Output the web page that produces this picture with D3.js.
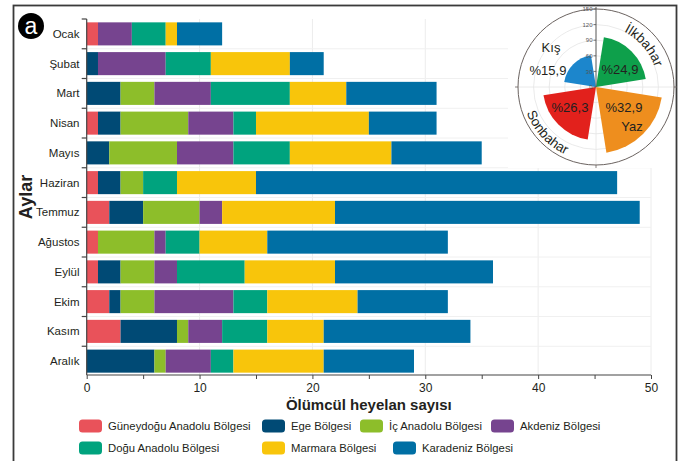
<!DOCTYPE html>
<html lang="tr">
<head>
<meta charset="utf-8">
<script src="https://cdn.jsdelivr.net/npm/d3@7"></script>
<style>
  html, body { margin: 0; padding: 0; background: #fff; }
  svg { display: block; }
  text { font-family: "Liberation Sans", Arial, sans-serif; }
</style>
</head>
<body>
<svg id="chart" width="681" height="461"></svg>
<script>
// Ölümcül heyelan sayıları: aylara ve bölgelere göre
const months = ["Ocak", "Şubat", "Mart", "Nisan", "Mayıs", "Haziran",
                "Temmuz", "Ağustos", "Eylül", "Ekim", "Kasım", "Aralık"];

const regions = ["Güneydoğu Anadolu Bölgesi", "Ege Bölgesi", "İç Anadolu Bölgesi",
                 "Akdeniz Bölgesi", "Doğu Anadolu Bölgesi", "Marmara Bölgesi",
                 "Karadeniz Bölgesi"];

const guneydogu = [1, 0, 0, 1, 0, 1, 2, 1, 1, 2, 3, 0];
const ege       = [0, 1, 3, 2, 2, 2, 3, 0, 2, 1, 5, 6];
const icAnadolu = [0, 0, 3, 6, 6, 2, 5, 5, 3, 3, 1, 1];
const akdeniz   = [3, 6, 5, 4, 5, 0, 2, 1, 2, 7, 3, 4];
const doguAnadolu = [3, 4, 7, 2, 5, 3, 0, 3, 6, 3, 4, 2];
const marmara   = [1, 7, 5, 10, 9, 7, 10, 6, 8, 8, 5, 8];
const karadeniz = [4, 3, 8, 6, 8, 32, 27, 16, 14, 8, 13, 8];

const regionColors = ["#E9525A", "#004A75", "#8DBE2A", "#76448F",
                      "#00A37E", "#F8C50B", "#006FA4"];

const xTicks = [0, 10, 20, 30, 40, 50];

// Mevsimsel dağılım (yüzde)
const seasons = ["İlkbahar", "Yaz", "Sonbahar", "Kış"];
const seasonPercent = [24.9, 32.9, 26.3, 15.9];
const seasonColors = ["#0EA04B", "#EE8E1E", "#E2211C", "#1C86CC"];
const polarTicks = [0, 30, 60, 90, 120, 150];

const seriesByRegion = [guneydogu, ege, icAnadolu, akdeniz, doguAnadolu, marmara, karadeniz];

const table = months.map((m, i) => {
  const row = { month: m };
  regions.forEach((r, k) => { row[r] = seriesByRegion[k][i]; });
  return row;
});

const svg = d3.select("#chart");
const ink = "#231f20";

// Çerçeve
svg.append("rect")
  .attr("x", 13.5).attr("y", 5.5)
  .attr("width", 663).attr("height", 480)
  .attr("fill", "#fff")
  .attr("stroke", "#3a3a3a").attr("stroke-width", 1.8);

// Ölçekler
const x = d3.scaleLinear().domain([0, 50]).range([86.7, 651]);
const y = d3.scaleBand().domain(months).range([19, 376])
  .paddingInner(0.225).paddingOuter(0.1125);

const plot = svg.append("g");

// Dikey ızgara çizgileri
plot.append("g").selectAll("line")
  .data(xTicks.slice(1))
  .join("line")
  .attr("x1", d => x(d)).attr("x2", d => x(d))
  .attr("y1", 19).attr("y2", 375)
  .attr("stroke", "#ececec").attr("stroke-width", 1);

// Yatay ızgara çizgileri (bant sınırları)
plot.append("g").selectAll("line")
  .data(months.slice(1))
  .join("line")
  .attr("x1", x(0)).attr("x2", x(50))
  .attr("y1", d => y(d) - y.step() * y.paddingInner() / 2)
  .attr("y2", d => y(d) - y.step() * y.paddingInner() / 2)
  .attr("stroke", "#f0f0f0").attr("stroke-width", 1);

// Yığılmış çubuklar
const stacked = d3.stack().keys(regions)(table);
plot.append("g").selectAll("g")
  .data(stacked)
  .join("g")
  .attr("fill", (d, i) => regionColors[i])
  .selectAll("rect")
  .data(d => d.filter(s => s[1] > s[0]))
  .join("rect")
  .attr("x", d => x(d[0]))
  .attr("width", d => x(d[1]) - x(d[0]))
  .attr("y", d => y(d.data.month))
  .attr("height", y.bandwidth());

// X ekseni
const xAxis = d3.axisBottom(x)
  .tickValues(d3.range(0, 51, 5))
  .tickSize(4)
  .tickFormat(d => (d % 10 === 0 ? d : ""));
const gx = svg.append("g").attr("transform", "translate(0,375)").call(xAxis);
gx.select(".domain").attr("stroke", "#444").attr("stroke-width", 1.2)
  .attr("d", `M${x(0)},0H${x(50)}`);
gx.selectAll(".tick line").attr("stroke", "#444");
gx.selectAll(".tick text")
  .attr("fill", ink).attr("font-size", 12).attr("dy", "0.85em")
  .attr("font-family", "Liberation Sans, Arial, sans-serif");

// Y ekseni: etiketler bant ortasında, çentikler bant sınırlarında
svg.append("line")
  .attr("x1", x(0)).attr("x2", x(0))
  .attr("y1", 19).attr("y2", 375)
  .attr("stroke", "#444").attr("stroke-width", 1.2);

const boundaries = months.map(m => y(m) - y.step() * y.paddingInner() / 2);
svg.append("g").selectAll("line")
  .data(boundaries)
  .join("line")
  .attr("x1", x(0) - 5).attr("x2", x(0))
  .attr("y1", d => d).attr("y2", d => d)
  .attr("stroke", "#444").attr("stroke-width", 1.2);

svg.append("g").selectAll("text")
  .data(months)
  .join("text")
  .attr("x", 79.5)
  .attr("y", d => y(d) + y.bandwidth() / 2)
  .attr("dy", "0.35em")
  .attr("text-anchor", "end")
  .attr("font-size", 11.5)
  .attr("fill", ink)
  .text(d => d);

// Eksen başlıkları
svg.append("text")
  .attr("transform", "translate(32,197) rotate(-90)")
  .attr("text-anchor", "middle")
  .attr("font-size", 18).attr("font-weight", "bold")
  .attr("fill", ink)
  .text("Aylar");

svg.append("text")
  .attr("x", (x(0) + x(50)) / 2).attr("y", 410)
  .attr("text-anchor", "middle")
  .attr("font-size", 15).attr("font-weight", "bold")
  .attr("fill", ink)
  .text("Ölümcül heyelan sayısı");

// Panel harfi
svg.append("circle").attr("cx", 31).attr("cy", 26).attr("r", 13).attr("fill", "#000");
svg.append("text")
  .attr("x", 31).attr("y", 26).attr("dy", "0.36em")
  .attr("text-anchor", "middle")
  .attr("font-size", 23).attr("fill", "#fff")
  .text("a");

// Gösterge
const legendPos = [[79, 426], [262, 426], [360, 426], [491, 426],
                   [79, 448], [262, 448], [393, 448]];
const legend = svg.append("g").selectAll("g")
  .data(regions)
  .join("g")
  .attr("transform", (d, i) => `translate(${legendPos[i][0]},${legendPos[i][1]})`);
legend.append("rect")
  .attr("x", 0).attr("y", -6.5).attr("width", 23).attr("height", 13)
  .attr("rx", 3.5)
  .attr("fill", (d, i) => regionColors[i]);
legend.append("text")
  .attr("x", 29).attr("y", 0).attr("dy", "0.35em")
  .attr("font-size", 11.3).attr("fill", ink)
  .text(d => d);

// Mevsimsel kutupsal grafik
const cx = 596, cy = 87;
const r = d3.scaleLinear().domain([0, 150]).range([0, 78]);
const total = d3.sum(seriesByRegion.flat());

const polar = svg.append("g");
polar.append("rect")
  .attr("x", 508).attr("y", 7).attr("width", 167).attr("height", 161)
  .attr("fill", "#fff");

const pg = polar.append("g").attr("transform", `translate(${cx},${cy})`);

// Halkalar
pg.selectAll("circle.ring")
  .data(polarTicks.slice(1, -1))
  .join("circle")
  .attr("class", "ring")
  .attr("r", d => r(d))
  .attr("fill", "none").attr("stroke", "#e4e4e4").attr("stroke-width", 0.8);

pg.append("line").attr("x1", -r(150)).attr("x2", r(150)).attr("y1", 0).attr("y2", 0)
  .attr("stroke", "#e4e4e4").attr("stroke-width", 0.8);
pg.append("line").attr("x1", 0).attr("x2", 0).attr("y1", 0).attr("y2", r(150))
  .attr("stroke", "#e4e4e4").attr("stroke-width", 0.8);

// Dilimler: yarıçap yüzdeden geri hesaplanan sayı
const deg = Math.PI / 180;
const arc = d3.arc().innerRadius(0);
pg.selectAll("path.wedge")
  .data(seasons)
  .join("path")
  .attr("class", "wedge")
  .attr("fill", (d, i) => seasonColors[i])
  .attr("d", (d, i) => arc({
    outerRadius: r(seasonPercent[i] / 100 * total),
    startAngle: (i * 90 + 9) * deg,
    endAngle: ((i + 1) * 90 - 9) * deg
  }));

// Dış çember ve eksen
pg.append("circle").attr("r", r(150))
  .attr("fill", "none").attr("stroke", "#6b6360").attr("stroke-width", 1);
pg.append("line").attr("x1", 0).attr("x2", 0).attr("y1", -r(150) - 2).attr("y2", 0)
  .attr("stroke", "#555").attr("stroke-width", 1);
pg.selectAll("line.ptick")
  .data(polarTicks)
  .join("line")
  .attr("class", "ptick")
  .attr("x1", -2.5).attr("x2", 0)
  .attr("y1", d => -r(d)).attr("y2", d => -r(d))
  .attr("stroke", "#555").attr("stroke-width", 0.8);
pg.selectAll("text.ptick")
  .data(polarTicks)
  .join("text")
  .attr("class", "ptick")
  .attr("x", -3.5).attr("y", d => -r(d)).attr("dy", "0.35em")
  .attr("text-anchor", "end")
  .attr("font-size", 6).attr("fill", "#555")
  .text(d => d);
// Kenar çentikleri
[[-r(150), 0, -r(150) - 3, 0], [r(150), 0, r(150) + 3, 0], [0, r(150), 0, r(150) + 3]]
  .forEach(([x1, y1, x2, y2]) => pg.append("line")
    .attr("x1", x1).attr("y1", y1).attr("x2", x2).attr("y2", y2)
    .attr("stroke", "#6b6360").attr("stroke-width", 0.8));

// Yüzde etiketleri
const fmt = v => "%" + d3.format(".1f")(v).replace(".", ",");
const pctPos = [[24, -13], [28, 25], [-26, 25], [-48, -12]];
pg.selectAll("text.pct")
  .data(seasonPercent)
  .join("text")
  .attr("class", "pct")
  .attr("x", (d, i) => pctPos[i][0]).attr("y", (d, i) => pctPos[i][1])
  .attr("text-anchor", "middle")
  .attr("font-family", "Noto Sans, sans-serif")
  .attr("font-size", 13).attr("fill", ink)
  .text(fmt);

// Mevsim adları
pg.append("text").attr("x", -45).attr("y", -35)
  .attr("text-anchor", "middle").attr("font-family", "Noto Sans, sans-serif")
  .attr("font-size", 13).attr("fill", ink).text(seasons[3]);
pg.append("text").attr("x", 36).attr("y", 44)
  .attr("text-anchor", "middle").attr("font-family", "Noto Sans, sans-serif")
  .attr("font-size", 13).attr("fill", ink).text(seasons[1]);

// Eğri etiketler için yollar (merkez koordinatlarında)
const arcPath = (rad, a0, a1, sweep) => {
  const p = a => [cx + rad * Math.sin(a * deg), cy - rad * Math.cos(a * deg)];
  const [x0, y0] = p(a0), [x1, y1] = p(a1);
  return `M${x0},${y0}A${rad},${rad} 0 0 ${sweep} ${x1},${y1}`;
};
const defs = svg.append("defs");
defs.append("path").attr("id", "arcSpring").attr("d", arcPath(62, 4, 94, 1));
defs.append("path").attr("id", "arcAutumn").attr("d", arcPath(74, 272, 182, 0));

[["#arcSpring", seasons[0]], ["#arcAutumn", seasons[2]]].forEach(([id, label]) => {
  svg.append("text")
    .attr("font-family", "Noto Sans, sans-serif")
    .attr("font-size", 13.5).attr("fill", ink)
    .append("textPath")
    .attr("href", id)
    .attr("startOffset", "50%")
    .attr("text-anchor", "middle")
    .text(label);
});
</script>
</body>
</html>
